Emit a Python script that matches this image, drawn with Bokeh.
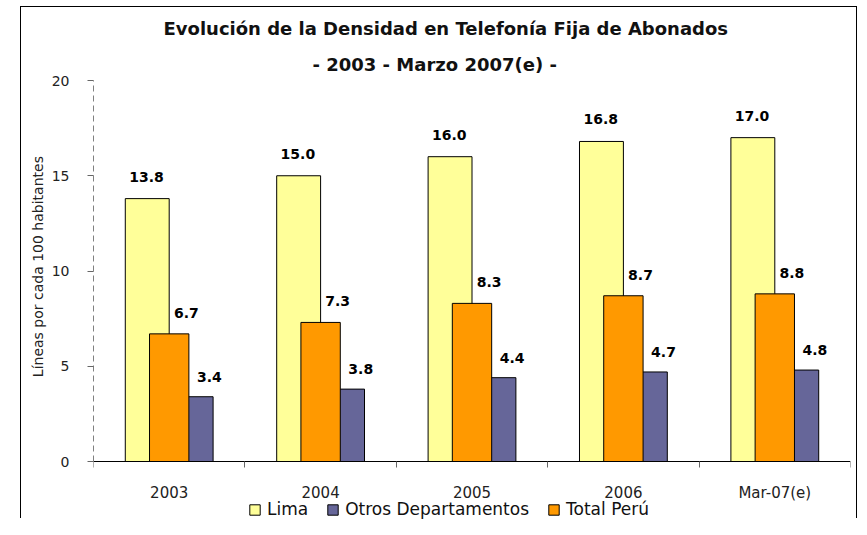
from bokeh.plotting import figure
from bokeh.models import (ColumnDataSource, Range1d, FixedTicker, Legend, LegendItem, Title)
from bokeh.transform import dodge
from bokeh.core.properties import value
from bokeh.embed import file_html
from bokeh.resources import INLINE

# ---- data ----
categories = ["2003", "2004", "2005", "2006", "Mar-07(e)"]
lima = [13.8, 15.0, 16.0, 16.8, 17.0]
total_peru = [6.7, 7.3, 8.3, 8.7, 8.8]
otros = [3.4, 3.8, 4.4, 4.7, 4.8]
y_ticks = [0, 5, 10, 15, 20]
Y_MAX = 20

FONT = "DejaVu Sans"
TXT = "#111111"

src = ColumnDataSource(dict(
    x=[i + 0.5 for i in range(len(categories))],
    lima=lima, total=total_peru, otros=otros,
    lima_l=[f"{v:.1f}" for v in lima],
    total_l=[f"{v:.1f}" for v in total_peru],
    otros_l=[f"{v:.1f}" for v in otros],
))

# layout (pixels)
W_FIG, H_FIG = 837, 512
TOP, ZERO_PX = 73, 454          # frame top and the y=0 line, in canvas pixels
px_per_unit = (ZERO_PX - TOP) / Y_MAX
y_low = -(H_FIG - ZERO_PX) / px_per_unit   # room under the axis for labels and legend

p = figure(width=W_FIG, height=H_FIG, x_range=Range1d(0, len(categories)),
           y_range=Range1d(y_low, Y_MAX),
           output_backend="svg", toolbar_location=None,
           min_border_left=72, min_border_right=8, min_border_top=TOP, min_border_bottom=0)
p.margin = (6, 0, 0, 20)
p.styles = {"border-top": "1px solid black", "border-left": "1px solid black",
            "border-right": "1px solid black"}
p.outline_line_color = None
p.xgrid.visible = False
p.ygrid.visible = False

# titles
p.title.text = "Evolución de la Densidad en Telefonía Fija de Abonados"
p.title.align = "left"
p.title.offset = 70
p.title.text_font = FONT
p.title.text_font_size = "18px"
p.title.text_font_style = "bold"
p.title.text_color = TXT
p.title.standoff = 13
t2 = Title(text="- 2003 - Marzo 2007(e) -", align="left", offset=219,
           text_font=FONT, text_font_size="18px", text_font_style="bold", text_color=TXT,
           standoff=12)
p.add_layout(t2, "above")

r_lima = p.vbar(x=dodge("x", -0.145), top="lima", bottom=0, width=0.29, source=src,
                fill_color="#FFFF99", line_color="black", line_width=1)
r_otros = p.vbar(x=dodge("x", 0.145), top="otros", bottom=0, width=0.29, source=src,
                 fill_color="#666699", line_color="black", line_width=1)
r_total = p.vbar(x=dodge("x", 0.0), top="total", bottom=0, width=0.26, source=src,
                 fill_color="#FF9900", line_color="black", line_width=1)

lbl = dict(source=src, text_font=value(FONT), text_font_size="14px", text_font_style="bold",
           text_color="black", text_align="center", text_baseline="middle")
p.text(x=dodge("x", -0.15), y="lima", text="lima_l", y_offset=-22, **lbl)
p.text(x=dodge("x", 0.113), y="total", text="total_l", y_offset=-21, **lbl)
p.text(x=dodge("x", 0.265), y="otros", text="otros_l", y_offset=-20, **lbl)

# y axis
ya = p.yaxis[0]
ya.ticker = FixedTicker(ticks=y_ticks, minor_ticks=[])
ya.bounds = (0, Y_MAX)
ya.axis_line_color = "#808080"
ya.axis_line_dash = "6 4"
ya.major_tick_line_color = "#666666"
ya.major_tick_out = 6
ya.major_tick_in = 0
ya.minor_tick_line_color = None
ya.major_label_text_font = FONT
ya.major_label_text_font_size = "14px"
ya.major_label_text_color = "#222222"
ya.major_label_standoff = 18
# leading no-break spaces lift the label to the centre of the 0-20 scale
ya.axis_label = "\u00a0" * 15 + "Líneas por cada 100 habitantes"
ya.axis_label_text_font = FONT
ya.axis_label_text_font_size = "14px"
ya.axis_label_text_font_style = "normal"
ya.axis_label_text_color = "#222222"
ya.axis_label_standoff = 3

# x axis, drawn on the y=0 line
xa = p.xaxis[0]
xa.fixed_location = 0
xa.ticker = FixedTicker(ticks=[i + 0.5 for i in range(len(categories))],
                        minor_ticks=list(range(len(categories) + 1)))
xa.major_label_overrides = {i + 0.5: c for i, c in enumerate(categories)}
xa.axis_line_color = "black"
xa.major_tick_line_color = None
xa.major_tick_out = 0
xa.major_tick_in = 0
xa.minor_tick_line_color = "#666666"
xa.minor_tick_out = 6
xa.minor_tick_in = 0
xa.major_label_text_font = FONT
xa.major_label_text_font_size = "15px"
xa.major_label_text_color = "#222222"
xa.major_label_standoff = 16

legend = Legend(items=[LegendItem(label="Lima", renderers=[r_lima]),
                       LegendItem(label="Otros Departamentos", renderers=[r_otros]),
                       LegendItem(label="Total Perú", renderers=[r_total])],
                orientation="horizontal", location=(155, 0),
                label_text_font=FONT, label_text_font_size="17px", label_text_color=TXT,
                label_height=16, glyph_width=13, glyph_height=13, spacing=18, label_standoff=6,
                border_line_color=None, background_fill_alpha=0, padding=0, margin=0)
p.add_layout(legend, "center")

open("out.html", "w").write(file_html(p, INLINE))
